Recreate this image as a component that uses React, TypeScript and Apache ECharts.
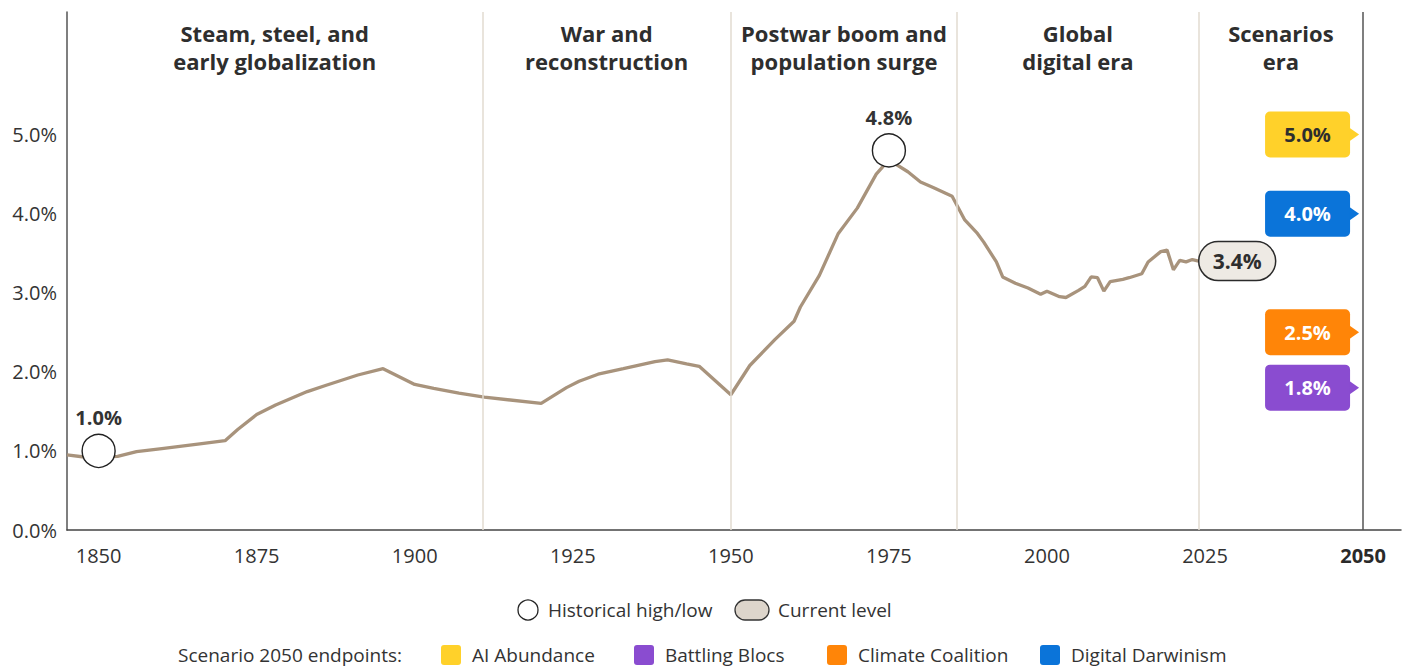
import React, { useEffect, useRef } from "react";
import * as echarts from "echarts";

// Historical series (year, % growth)
const lineYears = [
  1845, 1848, 1850, 1853, 1856, 1860, 1866, 1870, 1872, 1875, 1878, 1883, 1886, 1891, 1895,
  1900, 1903, 1907, 1911, 1920, 1924, 1926, 1929, 1933, 1938, 1940, 1943, 1945, 1950, 1953,
  1957, 1960, 1961, 1964, 1967, 1970, 1973, 1975, 1978, 1980, 1982, 1985, 1987, 1989, 1990,
  1992, 1993, 1995, 1997, 1999, 2000, 2002, 2003, 2005, 2006, 2007, 2008, 2009, 2010, 2012,
  2013, 2015, 2016, 2018, 2019, 2020, 2021, 2022, 2023, 2024,
];
const lineValues = [
  0.95, 0.92, 0.92, 0.93, 0.99, 1.03, 1.09, 1.13, 1.27, 1.46, 1.58, 1.75, 1.83, 1.96, 2.04,
  1.84, 1.79, 1.73, 1.68, 1.6, 1.8, 1.88, 1.97, 2.04, 2.13, 2.15, 2.1, 2.07, 1.71, 2.08,
  2.41, 2.64, 2.82, 3.22, 3.75, 4.07, 4.5, 4.68, 4.53, 4.4, 4.33, 4.22, 3.92, 3.75, 3.64,
  3.39, 3.2, 3.12, 3.06, 2.98, 3.02, 2.95, 2.94, 3.03, 3.08, 3.2, 3.19, 3.02, 3.14, 3.17,
  3.19, 3.24, 3.39, 3.52, 3.54, 3.29, 3.41, 3.39, 3.42, 3.4,
];

// Historical high / low markers
const extremeYears = [1850, 1975];
const extremeValues = [1.0, 4.8];

// Current level
const currentYear = 2024;
const currentValue = 3.4;

// Eras
const eraStarts = [1845, 1910.7, 1950, 1985.8, 2024];
const eraEnds = [1910.7, 1950, 1985.8, 2024, 2050];
const eraTitles = [
  "Steam, steel, and\nearly globalization",
  "War and\nreconstruction",
  "Postwar boom and\npopulation surge",
  "Global\ndigital era",
  "Scenarios\nera",
];

// 2050 scenario endpoints
const scenarioYear = 2050;
const scenarioNames = ["AI Abundance", "Digital Darwinism", "Climate Coalition", "Battling Blocs"];
const scenarioValues = [5.0, 4.0, 2.5, 1.8];
const scenarioColors = ["#FFD12A", "#0B74D9", "#FF8508", "#8A4CD0"];
const scenarioTextColors = ["#2e2e2e", "#ffffff", "#ffffff", "#ffffff"];

// Legend order
const legendNames = ["AI Abundance", "Battling Blocs", "Climate Coalition", "Digital Darwinism"];

// Axis ticks
const xTicks = [1850, 1875, 1900, 1925, 1950, 1975, 2000, 2025, 2050];

const FONT = '"Open Sans", "Noto Sans", sans-serif';
const TEXT = "#333333";
const LINE = "#A8937C";
const ERA_LINE = "#E2DBD1";
const CURRENT_FILL = "#EEEAE4";

export default function App() {
  const ref = useRef<HTMLDivElement>(null);

  useEffect(() => {
    if (!ref.current) return;
    const chart = echarts.init(ref.current, null, { renderer: "svg" });

    const lineData = lineYears.map((y, i) => [y, lineValues[i]]);
    const extremeData = extremeYears.map((y, i) => [y, extremeValues[i]]);
    const scenarioData = scenarioValues.map((v) => [scenarioYear, v]);

    const eraAreas = eraStarts.map((s, i) => [
      { xAxis: s, name: eraTitles[i] },
      { xAxis: eraEnds[i] },
    ]);

    const eraLines = eraStarts.slice(1).map((s) => ({
      xAxis: s,
      lineStyle: { color: ERA_LINE, width: 1.5, type: "solid" },
    }));

    const legendColorOf = (name: string) => scenarioColors[scenarioNames.indexOf(name)];
    const legendX = [441, 634, 827, 1040];
    const LEGEND_FS = 19;

    const graphic: any[] = [
      // row 1
      {
        type: "circle",
        shape: { cx: 528, cy: 610, r: 10 },
        style: { fill: "#fff", stroke: "#222", lineWidth: 1.3 },
      },
      {
        type: "text",
        x: 548,
        y: 610,
        style: { text: "Historical high/low", fontSize: LEGEND_FS, fontFamily: FONT, fill: TEXT, verticalAlign: "middle" },
      },
      {
        type: "rect",
        shape: { x: 735, y: 600, width: 34, height: 20, r: 10 },
        style: { fill: "#DDD5CB", stroke: "#333", lineWidth: 1.3 },
      },
      {
        type: "text",
        x: 778,
        y: 610,
        style: { text: "Current level", fontSize: LEGEND_FS, fontFamily: FONT, fill: TEXT, verticalAlign: "middle" },
      },
      // row 2
      {
        type: "text",
        x: 178,
        y: 655,
        style: { text: "Scenario 2050 endpoints:", fontSize: LEGEND_FS, fontFamily: FONT, fill: TEXT, verticalAlign: "middle" },
      },
      ...legendNames.flatMap((name, i) => [
        {
          type: "rect",
          shape: { x: legendX[i], y: 645, width: 20, height: 20, r: 3 },
          style: { fill: legendColorOf(name) },
        },
        {
          type: "text",
          x: legendX[i] + 31,
          y: 655,
          style: { text: name, fontSize: LEGEND_FS, fontFamily: FONT, fill: TEXT, verticalAlign: "middle" },
        },
      ]),
    ];

    chart.setOption({
      animation: false,
      textStyle: { fontFamily: FONT },
      grid: { left: 67, right: 6, top: 12, bottom: 138, containLabel: false, outerBoundsMode: "none" },
      xAxis: {
        type: "value",
        min: 1845,
        max: 2056,
        splitLine: { show: false },
        axisTick: { show: false },
        axisLine: { show: true, lineStyle: { color: "#444", width: 1.5 } },
        axisLabel: {
          customValues: xTicks,
          fontSize: 20,
          color: TEXT,
          fontFamily: FONT,
          margin: 15,
          formatter: (v: number) => (v === 2050 ? "{b|2050}" : String(v)),
          rich: { b: { fontSize: 20, fontWeight: "bold", color: "#2a2a2a", fontFamily: FONT } },
        },
      },
      yAxis: {
        type: "value",
        min: 0,
        max: 6.55,
        interval: 1,
        splitLine: { show: false },
        axisTick: { show: false },
        axisLine: { show: true, lineStyle: { color: "#555", width: 1.5 } },
        axisLabel: {
          fontSize: 20,
          color: TEXT,
          fontFamily: FONT,
          margin: 10,
          formatter: (v: number) => (v <= 5 ? v.toFixed(1) + "%" : ""),
        },
      },
      graphic,
      series: [
        {
          type: "line",
          name: "History",
          data: lineData,
          symbol: "none",
          lineStyle: { color: LINE, width: 3.3 },
          z: 3,
          markArea: {
            silent: true,
            itemStyle: { color: "rgba(0,0,0,0)" },
            label: {
              show: true,
              position: "insideTop",
              distance: 7,
              fontSize: 22,
              fontWeight: "bold",
              lineHeight: 28,
              color: "#2e2e2e",
              fontFamily: FONT,
              align: "center",
            },
            data: eraAreas,
          },
          markLine: {
            silent: true,
            symbol: "none",
            label: { show: false },
            data: [
              ...eraLines,
              { xAxis: scenarioYear, lineStyle: { color: "#555", width: 1.5, type: "solid" } },
            ],
          },
        },
        {
          type: "scatter",
          name: "Historical high/low",
          data: extremeData,
          symbol: "circle",
          symbolSize: 33,
          z: 5,
          itemStyle: { color: "#ffffff", borderColor: "#222", borderWidth: 1.4, opacity: 1 },
          label: {
            show: true,
            position: "top",
            distance: 6,
            fontSize: 20,
            fontWeight: "bold",
            color: TEXT,
            fontFamily: FONT,
            formatter: (p: any) => p.value[1].toFixed(1) + "%",
          },
        },
        {
          type: "custom",
          name: "Current level",
          data: [[currentYear, currentValue]],
          z: 6,
          clip: false,
          renderItem: (params: any, api: any) => {
            const v = api.value(1);
            const p = api.coord([api.value(0), v]);
            const w = 77;
            const h = 39;
            return {
              type: "group",
              children: [
                {
                  type: "rect",
                  shape: { x: p[0], y: p[1] - h / 2, width: w, height: h, r: h / 2 },
                  style: { fill: CURRENT_FILL, stroke: "#2b2b2b", lineWidth: 1.5 },
                },
                {
                  type: "text",
                  style: {
                    text: v.toFixed(1) + "%",
                    x: p[0] + w / 2,
                    y: p[1],
                    align: "center",
                    verticalAlign: "middle",
                    fontSize: 21,
                    fontWeight: "bold",
                    fontFamily: FONT,
                    fill: "#2e2e2e",
                  },
                },
              ],
            };
          },
        },
        {
          type: "custom",
          name: "Scenarios",
          data: scenarioData,
          z: 6,
          clip: false,
          renderItem: (params: any, api: any) => {
            const i = params.dataIndex;
            const v = api.value(1);
            const p = api.coord([api.value(0), v]);
            const tipX = p[0] - 4;
            const bw = 85;
            const bh = 46;
            const aw = 9;
            const ah = 7;
            const right = tipX - aw;
            const left = right - bw;
            const color = scenarioColors[i];
            return {
              type: "group",
              children: [
                {
                  type: "rect",
                  shape: { x: left, y: p[1] - bh / 2, width: bw, height: bh, r: 5 },
                  style: { fill: color },
                },
                {
                  type: "polygon",
                  shape: { points: [[right - 1, p[1] - ah], [tipX, p[1]], [right - 1, p[1] + ah]] },
                  style: { fill: color },
                },
                {
                  type: "text",
                  style: {
                    text: v.toFixed(1) + "%",
                    x: (left + right) / 2,
                    y: p[1],
                    align: "center",
                    verticalAlign: "middle",
                    fontSize: 20,
                    fontWeight: "bold",
                    fontFamily: FONT,
                    fill: scenarioTextColors[i],
                  },
                },
              ],
            };
          },
        },
      ],
    });

    return () => chart.dispose();
  }, []);

  return (
    <div
      ref={ref}
      style={{ position: "fixed", left: 0, top: 0, width: 1407, height: 668, background: "#ffffff" }}
    />
  );
}
